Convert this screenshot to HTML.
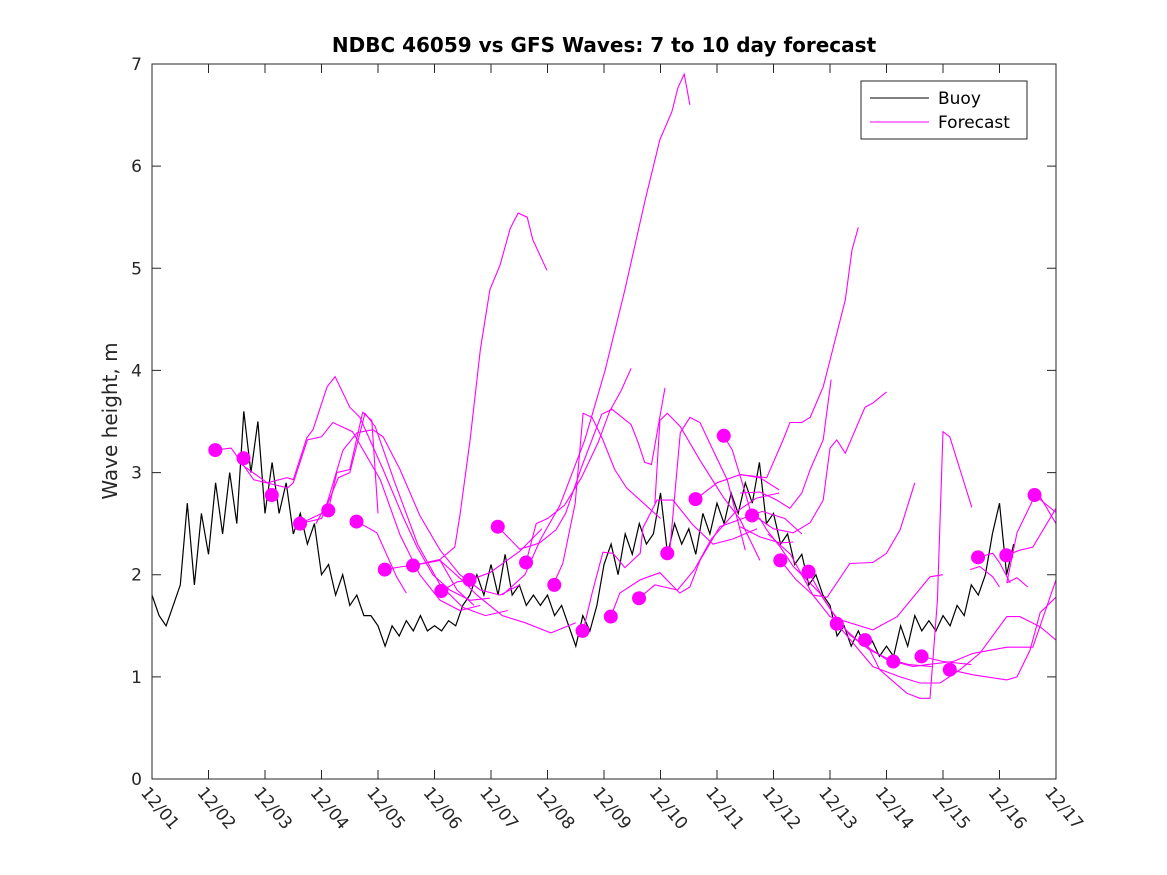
<!DOCTYPE html>
<html><head><meta charset="utf-8"><style>
body{margin:0;background:#fff;}
svg{display:block;font-family:"DejaVu Sans","Liberation Sans",sans-serif;}
</style></head><body>
<svg id="chart" width="1167" height="875" viewBox="0 0 1167 875" xmlns="http://www.w3.org/2000/svg">
<rect x="0" y="0" width="1167" height="875" fill="#fff"/>
<text x="604" y="52" text-anchor="middle" font-size="20" font-weight="bold" fill="#000">NDBC 46059 vs GFS Waves: 7 to 10 day forecast</text>
<text transform="translate(117,421) rotate(-90)" text-anchor="middle" font-size="20" fill="#262626">Wave height, m</text>
<g id="plot"></g>
<rect x="152" y="64" width="904" height="715" fill="none" stroke="#262626" stroke-width="1"/>
<g id="ticks"></g>
<g>
<rect x="861" y="81" width="166" height="58" fill="#fff" stroke="#262626" stroke-width="1"/>
<line x1="870" y1="98" x2="929" y2="98" stroke="#000" stroke-width="1"/>
<text x="938" y="104" font-size="17" fill="#000">Buoy</text>
<line x1="870" y1="122" x2="929" y2="122" stroke="#f0f" stroke-width="1"/>
<text x="938" y="128" font-size="17" fill="#000">Forecast</text>
</g>
</svg>
<script>
const xTickLabels=["12/01","12/02","12/03","12/04","12/05","12/06","12/07","12/08","12/09","12/10","12/11","12/12","12/13","12/14","12/15","12/16","12/17"];
const yTickValues=[0,1,2,3,4,5,6,7];
const buoyStep=0.125;
const buoyValues=[1.8,1.6,1.5,1.7,1.9,2.7,1.9,2.6,
2.2,2.9,2.4,3.0,2.5,3.6,3.0,3.5,
2.6,3.1,2.6,2.9,2.4,2.6,2.3,2.5,
2.0,2.1,1.8,2.0,1.7,1.8,1.6,1.6,
1.5,1.3,1.5,1.4,1.55,1.45,1.6,1.45,
1.5,1.45,1.55,1.5,1.7,1.8,2.0,1.8,
2.1,1.8,2.2,1.8,1.9,1.7,1.8,1.7,
1.8,1.6,1.7,1.5,1.3,1.6,1.45,1.7,
2.1,2.3,2.0,2.4,2.2,2.5,2.3,2.4,
2.8,2.2,2.5,2.3,2.45,2.2,2.6,2.4,
2.7,2.5,2.8,2.6,2.9,2.7,3.1,2.5,
2.6,2.3,2.4,2.1,2.2,1.9,2.0,1.8,
1.7,1.4,1.5,1.3,1.45,1.3,1.35,1.2,
1.3,1.2,1.5,1.3,1.6,1.45,1.55,1.45,
1.6,1.5,1.7,1.6,1.9,1.8,2.0,2.4,
2.7,2.0,2.3];
const dotDays=[1.12,1.62,2.12,2.62,3.12,3.62,4.12,4.62,5.12,5.62,6.12,6.62,7.12,7.62,8.12,8.62,9.12,9.62,10.12,10.62,11.12,11.62,12.12,12.62,13.12,13.62,14.12,14.62,15.12,15.62];
const dotValues=[3.22,3.14,2.78,2.50,2.63,2.52,2.05,2.09,1.84,1.95,2.47,2.12,1.90,1.45,1.59,1.77,2.21,2.74,3.36,2.58,2.14,2.03,1.52,1.36,1.15,1.20,1.07,2.17,2.19,2.78];
const forecastLines=[
[[1.12,3.22],[1.4,3.24],[1.8,2.93],[2.4,2.85],[2.5,2.9],[2.75,3.32],[3.0,3.35],[3.2,3.49],[3.55,3.40],[4.04,2.93],[4.39,2.39],[4.74,2.0],[5.1,1.75],[5.45,1.65],[5.81,1.7]],
[[1.56,3.09],[2.04,2.90],[2.39,2.95],[2.5,2.93],[2.74,3.34],[2.85,3.42],[3.10,3.84],[3.24,3.94],[3.50,3.64],[3.68,3.54],[4.09,3.03],[4.44,2.57],[4.69,2.27],[4.97,2.0],[5.27,1.85],[5.63,1.75],[5.98,1.77]],
[[2.62,2.5],[3.12,2.63],[3.27,3.0],[3.5,3.03],[3.73,3.59],[3.89,3.51],[4.0,2.6]],
[[2.9,2.5],[3.1,2.7],[3.38,3.22],[3.63,3.39],[3.91,3.42],[4.09,3.35],[4.39,3.03],[4.74,2.58],[5.10,2.24],[5.45,2.0],[5.81,1.85],[6.16,1.8],[6.51,1.9]],
[[2.62,2.5],[3.0,2.55],[3.3,2.95],[3.5,3.0],[3.77,3.58],[3.95,3.45],[4.3,2.9],[4.7,2.3],[5.1,1.9],[5.5,1.68],[5.9,1.6],[6.3,1.65]],
[[3.63,2.52],[3.98,2.41],[4.33,1.98],[4.5,1.82]],
[[4.12,2.05],[4.44,2.08],[4.62,2.09],[5.1,2.14],[5.4,1.85],[5.7,1.7]],
[[4.62,2.09],[5.1,2.15],[5.36,2.27],[5.45,2.58],[5.63,3.32],[5.81,4.2],[5.98,4.79],[6.16,5.03],[6.34,5.39],[6.48,5.54],[6.64,5.5],[6.74,5.28],[6.99,4.98]],
[[5.12,1.84],[5.4,1.93],[5.63,1.95],[5.98,2.02],[6.51,2.23],[6.9,2.45]],
[[5.1,2.14],[5.5,1.94],[5.75,1.8],[6.2,1.6],[6.6,1.53],[7.06,1.43],[7.5,1.53]],
[[6.12,2.47],[6.51,2.25],[6.86,2.31],[7.15,2.44],[7.32,2.6],[7.6,3.05],[7.96,3.57],[8.14,3.62],[8.48,3.47],[8.6,3.3],[8.72,3.1],[8.84,3.08],[9.08,3.83]],
[[6.62,2.12],[6.8,2.5],[7.0,2.55],[7.3,2.68],[7.6,2.95],[7.9,3.3],[8.1,3.6],[8.3,3.8],[8.48,4.02]],
[[6.2,1.8],[6.6,2.0],[6.87,2.34],[7.22,2.68],[7.66,3.32],[8.02,4.0],[8.37,4.79],[8.73,5.67],[8.99,6.26],[9.2,6.53],[9.31,6.77],[9.42,6.9],[9.52,6.6]],
[[7.1,1.9],[7.27,2.11],[7.49,2.7],[7.63,3.58],[7.79,3.54],[7.98,3.32],[8.19,3.03],[8.4,2.85],[8.7,2.7],[9.0,2.55]],
[[7.63,1.45],[7.79,1.82],[7.98,2.22],[8.16,2.21],[8.37,2.07],[8.64,2.21],[8.69,2.46],[8.94,2.73],[9.22,2.73],[9.57,2.49],[9.93,2.30],[10.28,2.35],[10.71,2.45]],
[[8.12,1.59],[8.28,1.82],[8.64,1.95],[8.99,2.02],[9.34,1.82],[9.52,1.88],[9.7,2.14],[10.05,2.47],[10.4,2.54],[10.8,2.62],[11.2,2.55],[11.5,2.4]],
[[8.62,1.77],[8.9,1.9],[9.3,1.85],[9.6,2.05],[9.9,2.35],[10.3,2.6],[10.7,2.75],[11.1,2.8]],
[[8.9,2.7],[8.99,3.51],[9.12,3.58],[9.35,3.45],[9.7,3.12],[10.11,2.76],[10.41,2.54],[10.76,2.14]],
[[9.17,2.27],[9.35,3.39],[9.52,3.54],[9.7,3.49],[9.93,3.22],[10.18,2.93],[10.5,2.24]],
[[9.63,2.74],[10.0,2.9],[10.41,2.98],[10.76,2.95],[11.1,2.83]],
[[10.12,3.36],[10.27,3.22],[10.5,2.8],[10.62,2.57]],
[[10.41,2.98],[10.88,2.95],[11.17,3.32],[11.29,3.49],[11.5,3.49],[11.65,3.54],[11.88,3.84],[12.0,4.1],[12.27,4.69],[12.39,5.18],[12.5,5.4]],
[[10.41,2.80],[10.76,2.81],[11.06,2.73],[11.29,2.65],[11.5,2.80],[11.65,3.03],[11.88,3.32],[12.02,3.91]],
[[10.6,2.6],[11.0,2.45],[11.35,2.41],[11.65,2.51],[11.88,2.73],[12.0,3.24],[12.12,3.32],[12.27,3.19],[12.62,3.64],[12.76,3.68],[13.0,3.79]],
[[10.9,2.4],[11.3,2.2],[11.7,1.8],[11.95,1.78],[12.35,2.11],[12.76,2.12],[13.0,2.21],[13.24,2.44],[13.5,2.9]],
[[10.62,2.58],[10.76,2.55],[10.88,2.44],[11.12,2.27],[11.35,2.08],[11.59,1.95],[11.82,1.82],[12.05,1.63],[12.35,1.41],[12.71,1.26],[13.06,1.17],[13.4,1.12],[13.8,1.1]],
[[10.41,2.47],[10.76,2.37],[11.12,2.31],[11.35,2.32]],
[[11.12,2.14],[11.4,1.95],[11.7,1.8],[12.0,1.59],[12.76,1.46],[13.19,1.59],[13.77,1.98],[14.0,2.0]],
[[11.62,2.03],[11.9,1.75],[12.2,1.5],[12.5,1.35],[13.0,1.17],[13.47,1.1],[13.72,1.12],[14.18,1.15],[14.53,1.23],[15.13,1.29],[15.59,1.29],[16.0,1.95]],
[[12.12,1.52],[12.76,1.10],[13.24,1.0],[13.59,0.94],[13.95,0.94],[14.3,1.07],[14.65,1.23],[15.13,1.59],[15.36,1.59],[15.72,1.49],[16.0,1.36]],
[[12.62,1.36],[12.88,1.07],[13.36,0.84],[13.59,0.79],[13.77,0.79],[13.9,1.75],[14.0,3.4],[14.12,3.35],[14.3,3.03],[14.51,2.66]],
[[13.62,1.2],[14.0,1.15],[14.5,1.12]],
[[14.12,1.07],[14.53,1.02],[15.13,0.97],[15.31,1.0],[15.54,1.26],[15.72,1.63],[16.0,1.78]],
[[14.62,2.17],[14.88,2.21],[15.0,2.12],[15.19,1.92]],
[[14.48,2.05],[14.65,2.08],[14.88,1.98],[15.0,1.88]],
[[15.12,2.19],[15.36,2.24],[15.59,2.27],[16.0,2.65]],
[[15.13,1.92],[15.31,2.41],[15.59,2.73],[15.7,2.78],[16.0,2.5]],
[[15.62,2.78],[16.0,2.61]],
[[15.13,1.92],[15.31,1.97],[15.5,1.88]]
];
const NS="http://www.w3.org/2000/svg";
const X0=152,X1=1056,Y0=779,Y1=64,DAYS=16,VMAX=7;
function xs(d){return X0+(d/DAYS)*(X1-X0);}
function ys(v){return Y0-(v/VMAX)*(Y0-Y1);}
const plot=document.getElementById('plot');
const ticks=document.getElementById('ticks');
const defs=document.createElementNS(NS,'defs');
defs.innerHTML='<clipPath id="cp"><rect x="152" y="64" width="904" height="715"/></clipPath>';
document.getElementById('chart').insertBefore(defs,plot);
plot.setAttribute('clip-path','url(#cp)');
let bp=buoyValues.map((v,i)=>(i?'L':'M')+xs(i*buoyStep).toFixed(1)+','+ys(v).toFixed(1)).join('');
const bl=document.createElementNS(NS,'path');
bl.setAttribute('d',bp);bl.setAttribute('fill','none');bl.setAttribute('stroke','#000');bl.setAttribute('stroke-width','1.2');


plot.appendChild(bl);
forecastLines.forEach((ln,k)=>{
 const p=document.createElementNS(NS,'path');
 p.setAttribute('d',ln.map((pt,i)=>(i?'L':'M')+xs(pt[0]).toFixed(1)+','+ys(pt[1]).toFixed(1)).join(''));
 p.setAttribute('fill','none');p.setAttribute('stroke','#f0f');p.setAttribute('stroke-width','1.1');
 
 
 plot.appendChild(p);
});
dotDays.forEach((d,i)=>{
 const c=document.createElementNS(NS,'circle');
 c.setAttribute('cx',xs(d));c.setAttribute('cy',ys(dotValues[i]));c.setAttribute('r','7');c.setAttribute('fill','#f0f');
 
 
 plot.appendChild(c);
});
yTickValues.forEach(v=>{
 const y=ys(v);
 const t=document.createElementNS(NS,'path');
 t.setAttribute('d',`M${X0},${y}h9M${X1},${y}h-9`);t.setAttribute('stroke','#262626');
 
 
 ticks.appendChild(t);
 const tx=document.createElementNS(NS,'text');
 tx.setAttribute('x',X0-10);tx.setAttribute('y',y+6);tx.setAttribute('text-anchor','end');tx.setAttribute('font-size','17');tx.setAttribute('fill','#262626');
 tx.textContent=v;
 
 
 ticks.appendChild(tx);
});
xTickLabels.forEach((lab,i)=>{
 const x=xs(i);
 const t=document.createElementNS(NS,'path');
 t.setAttribute('d',`M${x},${Y0}v-9M${x},${Y1}v9`);t.setAttribute('stroke','#262626');
 
 
 ticks.appendChild(t);
 const tx=document.createElementNS(NS,'text');
 tx.setAttribute('transform',`translate(${x-12},${Y0+14}) rotate(50)`);
 tx.setAttribute('font-size','17');tx.setAttribute('fill','#262626');
 tx.textContent=lab;
 
 
 ticks.appendChild(tx);
});
</script>
</body></html>
